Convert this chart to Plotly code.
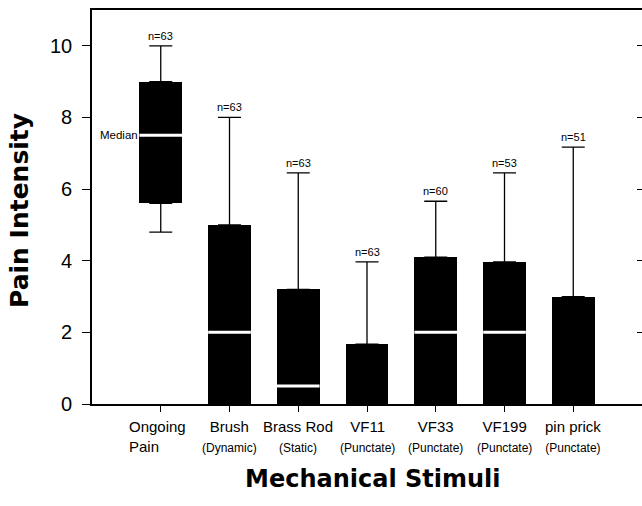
import plotly.graph_objects as go

# ---- data ----
categories = ["Ongoing Pain", "Brush", "Brass Rod", "VF11", "VF33", "VF199", "pin prick"]
label_main = ["Ongoing<br>Pain", "Brush", "Brass Rod", "VF11", "VF33", "VF199", "pin prick"]
label_sub = ["", "(Dynamic)", "(Static)", "(Punctate)", "(Punctate)", "(Punctate)", "(Punctate)"]
q1 = [5.6, 0, 0, 0, 0, 0, 0]
median = [7.5, 2.0, 0.5, None, 2.0, 2.0, None]
q3 = [9.0, 5.0, 3.2, 1.67, 4.1, 3.97, 3.0]
upper = [10.0, 8.0, 6.45, 3.97, 5.66, 6.45, 7.17]
lower = [4.8, 0, 0, 0, 0, 0, 0]
n_counts = [63, 63, 63, 63, 60, 53, 51]
y_ticks = [0, 2, 4, 6, 8, 10]

pos = list(range(len(categories)))
box_w = 0.62
FONT = "Liberation Sans, Arial, sans-serif"

fig = go.Figure()

# boxes (q1..q3)
fig.add_trace(go.Bar(
    x=pos, y=[b - a for a, b in zip(q1, q3)], base=q1, width=box_w,
    marker=dict(color="black", line=dict(width=0)), hoverinfo="skip", showlegend=False))

# upper whiskers with caps
fig.add_trace(go.Scatter(
    x=pos, y=q3, mode="markers", marker=dict(size=1, opacity=0), showlegend=False,
    hoverinfo="skip",
    error_y=dict(type="data", symmetric=False,
                 array=[u - b for u, b in zip(upper, q3)], arrayminus=[0] * len(pos),
                 width=11.5, thickness=1.3, color="black")))

# lower whiskers with caps (only where lower < q1)
lw_x = [p for p, a, l in zip(pos, q1, lower) if l < a]
lw_y = [a for a, l in zip(q1, lower) if l < a]
lw_e = [a - l for a, l in zip(q1, lower) if l < a]
fig.add_trace(go.Scatter(
    x=lw_x, y=lw_y, mode="markers", marker=dict(size=1, opacity=0), showlegend=False,
    hoverinfo="skip",
    error_y=dict(type="data", symmetric=False, array=[0] * len(lw_x), arrayminus=lw_e,
                 width=11.5, thickness=1.3, color="black")))

# white median lines (on the overlaid right-hand axis, same range)
mx, my = [], []
for p, m in zip(pos, median):
    if m is None:
        continue
    mx += [p - box_w / 2, p + box_w / 2, None]
    my += [m, m, None]
fig.add_trace(go.Scatter(x=mx, y=my, mode="lines", line=dict(color="white", width=3),
                         yaxis="y2", hoverinfo="skip", showlegend=False))

annotations = []
# n labels
for p, u, n in zip(pos, upper, n_counts):
    annotations.append(dict(x=p, y=u, xref="x", yref="y", text=f"n={n}", showarrow=False,
                            yanchor="bottom", yshift=2, font=dict(family=FONT, size=11, color="black")))
# Median label
annotations.append(dict(x=pos[0] - box_w / 2, y=median[0], xref="x", yref="y", text="Median",
                        showarrow=False, xanchor="right", xshift=1,
                        font=dict(family=FONT, size=11.5, color="black")))
# category labels
for p, m, s in zip(pos, label_main, label_sub):
    txt = m if not s else f"{m}<br><span style='font-size:12px'>{s}</span>"
    annotations.append(dict(x=p, y=0, xref="x", yref="paper", text=txt, showarrow=False,
                            yanchor="top", yshift=-12, align="left" if not s else "center",
                            xshift=-3 if not s else 0,
                            font=dict(family=FONT, size=15, color="black")))
# axis titles
annotations.append(dict(x=0.51, y=0, xref="paper", yref="paper", text="<b>Mechanical Stimuli</b>",
                        showarrow=False, yanchor="middle", yshift=-75,
                        font=dict(family="DejaVu Sans, sans-serif", size=24, color="black")))
annotations.append(dict(x=0, y=0.5, xref="paper", yref="paper", text="<b>Pain Intensity</b>",
                        showarrow=False, textangle=-90, xanchor="center", xshift=-73, yshift=-4,
                        font=dict(family="DejaVu Sans, sans-serif", size=25, color="black")))

fig.update_layout(
    width=642, height=506,
    margin=dict(l=92, r=0, t=10, b=102),
    paper_bgcolor="white", plot_bgcolor="white",
    bargap=0, showlegend=False,
    annotations=annotations,
    xaxis=dict(range=[-1, 7], tickvals=pos, ticktext=[""] * len(pos), showticklabels=False,
               ticks="outside", ticklen=6, tickwidth=1.3, tickcolor="black",
               showline=True, linecolor="black", linewidth=1.6, mirror=True,
               showgrid=False, zeroline=False),
    yaxis=dict(range=[0, 11], tickvals=y_ticks, ticks="outside", ticklen=8, tickwidth=1.3,
               tickcolor="black", showline=True, linecolor="black", linewidth=1.6,
               showgrid=False, zeroline=False, ticklabelstandoff=6,
               tickfont=dict(family=FONT, size=20, color="black")),
    yaxis2=dict(range=[0, 11], overlaying="y", side="right", anchor="x",
                tickvals=y_ticks[1:], ticks="inside", ticklen=5, tickwidth=1.3, tickcolor="black",
                showline=False, showticklabels=False, showgrid=False, zeroline=False),
)

fig.write_html("out.html", config={"displayModeBar": False},
               post_script="document.body.style.margin='0';document.body.style.overflow='hidden';")
